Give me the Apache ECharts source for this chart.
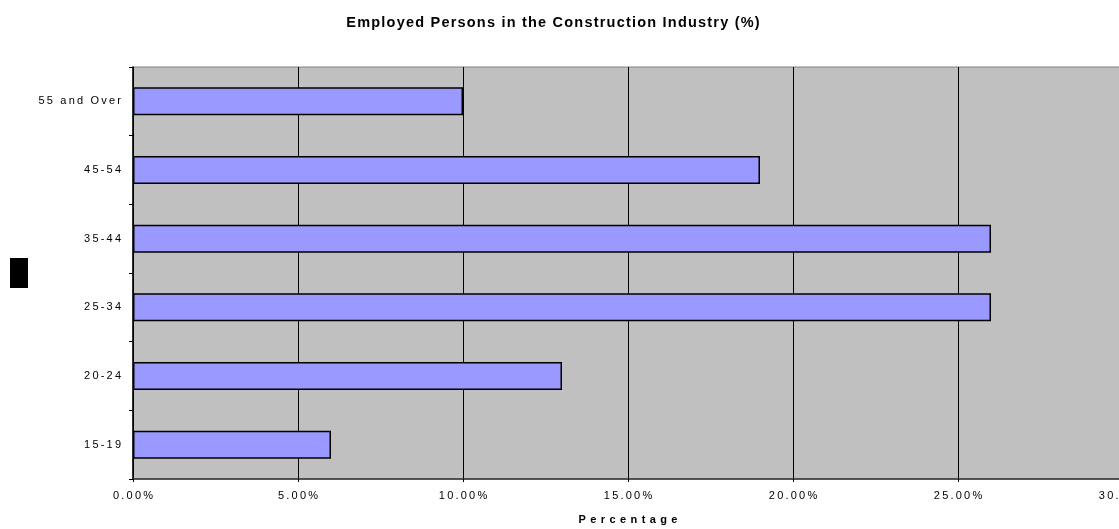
<!DOCTYPE html>
<html>
<head>
<meta charset="utf-8">
<script src="https://cdn.jsdelivr.net/npm/echarts@6/dist/echarts.min.js"></script>
<style>
  html, body { margin: 0; padding: 0; background: #fff; }
  #main { width: 1119px; height: 529px; }
</style>
</head>
<body>
<div id="main"></div>
<script>
const ageGroups = ['15-19', '20-24', '25-34', '35-44', '45-54', '55 and Over'];
const shares = [6, 13, 26, 26, 19, 10];
const xTicks = [0, 5, 10, 15, 20, 25, 30];

// Excel-ish spaced-out letters
function spaced(s, gap) {
  return s.split('').join(gap || '\u2009');
}

const chart = echarts.init(document.getElementById('main'));

const option = {
  animation: false,
  backgroundColor: '#ffffff',
  title: {
    text: spaced('Employed Persons in the Construction Industry (%)', '\u200a'),
    left: 548,
    textAlign: 'center',
    top: 10,
    textStyle: {
      fontFamily: 'Liberation Sans, Arial, sans-serif',
      fontSize: 14.5,
      fontWeight: 'bold',
      color: '#000'
    }
  },
  grid: {
    left: 133,
    right: -4,
    top: 67,
    bottom: 50,
    containLabel: false,
    outerBoundsMode: 'none',
    show: true,
    backgroundColor: '#c0c0c0',
    borderColor: '#808080',
    borderWidth: 1
  },
  xAxis: {
    type: 'value',
    min: xTicks[0],
    max: xTicks[xTicks.length - 1],
    interval: 5,
    name: spaced('Percentage', '\u2009\u2009'),
    nameLocation: 'middle',
    nameGap: 35,
    nameTextStyle: {
      fontFamily: 'Liberation Sans, Arial, sans-serif',
      fontSize: 11,
      fontWeight: 'bold',
      color: '#000'
    },
    axisLine: { show: true, lineStyle: { color: '#333', width: 1.5 } },
    axisTick: { show: true, length: 3, lineStyle: { color: '#000' } },
    splitLine: { show: true, lineStyle: { color: '#000', width: 1 } },
    axisLabel: {
      margin: 11,
      fontFamily: 'Liberation Sans, Arial, sans-serif',
      fontSize: 11,
      color: '#000',
      formatter: v => spaced(v.toFixed(2) + '%')
    }
  },
  yAxis: {
    type: 'category',
    data: ageGroups,
    axisLine: { show: true, lineStyle: { color: '#000', width: 1.5 } },
    axisTick: { show: true, length: 4, lineStyle: { color: '#000' } },
    splitLine: { show: false },
    axisLabel: {
      margin: 12,
      fontFamily: 'Liberation Sans, Arial, sans-serif',
      fontSize: 11,
      color: '#000',
      formatter: v => spaced(v)
    }
  },
  graphic: [{
    type: 'rect',
    left: 10,
    top: 258,
    shape: { width: 18, height: 30 },
    style: { fill: '#000' }
  }],
  series: [{
    type: 'bar',
    data: shares,
    barWidth: 28,
    itemStyle: {
      color: '#9999ff',
      borderColor: '#000',
      borderWidth: 1.5
    }
  }]
};

chart.setOption(option);
</script>
</body>
</html>
